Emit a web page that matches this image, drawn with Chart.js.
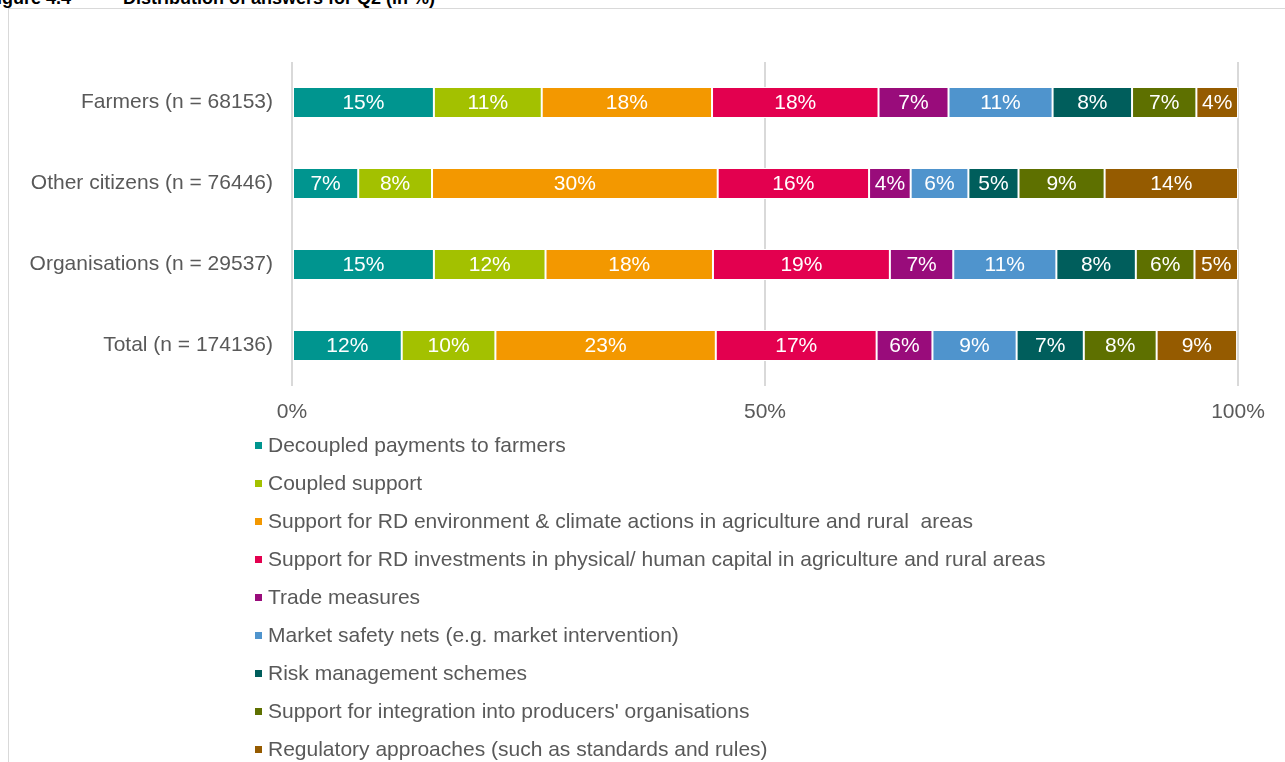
<!DOCTYPE html>
<html>
<head>
<meta charset="utf-8">
<script src="https://cdn.jsdelivr.net/npm/chart.js@4.4.0/dist/chart.umd.min.js"></script>
<style>
  html, body { margin:0; padding:0; background:#fff; width:1285px; height:762px; overflow:hidden; position:relative; font-family:"Liberation Sans", Arial, sans-serif; }
  #frame { position:absolute; left:8px; top:8px; width:1400px; height:900px; border:1px solid #D9D9D9; box-sizing:border-box; }
  .title { position:absolute; top:-12px; font-weight:bold; font-size:18px; line-height:20px; color:#000; white-space:nowrap; }
  #wrap { position:absolute; left:0; top:0; width:1285px; height:430px; }
  #legend { position:absolute; left:254px; top:426px; margin:0; padding:0; list-style:none; }
  #legend li { height:38px; line-height:38px; font-size:21px; color:#595959; white-space:pre; position:relative; padding-left:14px; }
  #legend li span.box { position:absolute; left:1px; top:16px; width:7px; height:7px; }
</style>
</head>
<body>
<div id="frame"></div>
<div class="title" style="left:-14px;">Figure 4.4</div>
<div class="title" style="left:123px;">Distribution of answers for Q2 (in %)</div>
<div id="wrap"><canvas id="c" width="1285" height="430"></canvas></div>
<ul id="legend"></ul>
<script>
const categories = ["Farmers (n = 68153)", "Other citizens (n = 76446)", "Organisations (n = 29537)", "Total (n = 174136)"];
const seriesNames = [
  "Decoupled payments to farmers",
  "Coupled support",
  "Support for RD environment & climate actions in agriculture and rural  areas",
  "Support for RD investments in physical/ human capital in agriculture and rural areas",
  "Trade measures",
  "Market safety nets (e.g. market intervention)",
  "Risk management schemes",
  "Support for integration into producers' organisations",
  "Regulatory approaches (such as standards and rules)"
];
const seriesColors = ["#00958F", "#A3C100", "#F39800", "#E3004F", "#990C7B", "#4F94CD", "#005E5C", "#5E7000", "#955B00"];
// values per series, in category order (Farmers, Other citizens, Organisations, Total)
const decoupled   = [15.0, 7.0, 15.0, 11.6];
const coupled     = [11.4, 7.8, 11.8, 9.9];
const rdEnv       = [18.0, 30.2, 17.7, 23.3];
const rdInvest    = [17.6, 16.0, 18.7, 17.0];
const trade       = [7.4, 4.4, 6.7, 5.9];
const safetyNets  = [11.0, 6.1, 10.9, 8.9];
const riskMgmt    = [8.4, 5.3, 8.4, 7.1];
const producerOrg = [6.8, 9.1, 6.2, 7.7];
const regulatory  = [4.4, 14.1, 4.6, 8.5];
const xTicks = [0, 50, 100];

const seriesValues = [decoupled, coupled, rdEnv, rdInvest, trade, safetyNets, riskMgmt, producerOrg, regulatory];

const datasets = seriesNames.map((name, i) => ({
  label: name,
  data: seriesValues[i],
  backgroundColor: seriesColors[i],
  borderColor: "#ffffff",
  borderWidth: 1,
  borderSkipped: false,
  categoryPercentage: 1.0,
  barPercentage: 0.383
}));

const FONT = "'Liberation Sans', Arial, sans-serif";

const valueLabels = {
  id: "valueLabels",
  afterDatasetsDraw(chart) {
    const ctx = chart.ctx;
    ctx.save();
    ctx.fillStyle = "#ffffff";
    ctx.font = "21px " + FONT;
    ctx.textAlign = "center";
    ctx.textBaseline = "middle";
    chart.data.datasets.forEach((ds, di) => {
      const meta = chart.getDatasetMeta(di);
      meta.data.forEach((bar, i) => {
        const v = ds.data[i];
        const cx = (bar.x + bar.base) / 2;
        ctx.fillText(Math.round(v) + "%", cx, bar.y + 1);
      });
    });
    ctx.restore();
  }
};

const chart = new Chart(document.getElementById("c"), {
  type: "bar",
  data: { labels: categories, datasets },
  options: {
    indexAxis: "y",
    responsive: false,
    animation: false,
    layout: { padding: { top: 62, right: 47, bottom: 0, left: 0 } },
    plugins: { legend: { display: false }, tooltip: { enabled: false } },
    scales: {
      x: {
        stacked: true,
        min: 0, max: 100,
        afterBuildTicks(scale) { scale.ticks = xTicks.map(v => ({ value: v })); },
        afterFit(scale) { scale.height = 44; },
        grid: { color: "#D9D9D9", lineWidth: 2, drawTicks: false },
        border: { display: false },
        ticks: {
          padding: 14,
          color: "#595959",
          font: { family: FONT, size: 21 },
          callback: v => v + "%"
        }
      },
      y: {
        stacked: true,
        afterFit(scale) { scale.width = 292; },
        grid: { display: false, drawTicks: false },
        border: { display: false },
        ticks: {
          padding: 19,
          color: "#595959",
          font: { family: FONT, size: 21 }
        }
      }
    }
  },
  plugins: [valueLabels]
});

const legendEl = document.getElementById("legend");
chart.data.datasets.forEach(ds => {
  const li = document.createElement("li");
  const box = document.createElement("span");
  box.className = "box";
  box.style.background = ds.backgroundColor;
  li.appendChild(box);
  li.appendChild(document.createTextNode(ds.label));
  legendEl.appendChild(li);
});
</script>
</body>
</html>
